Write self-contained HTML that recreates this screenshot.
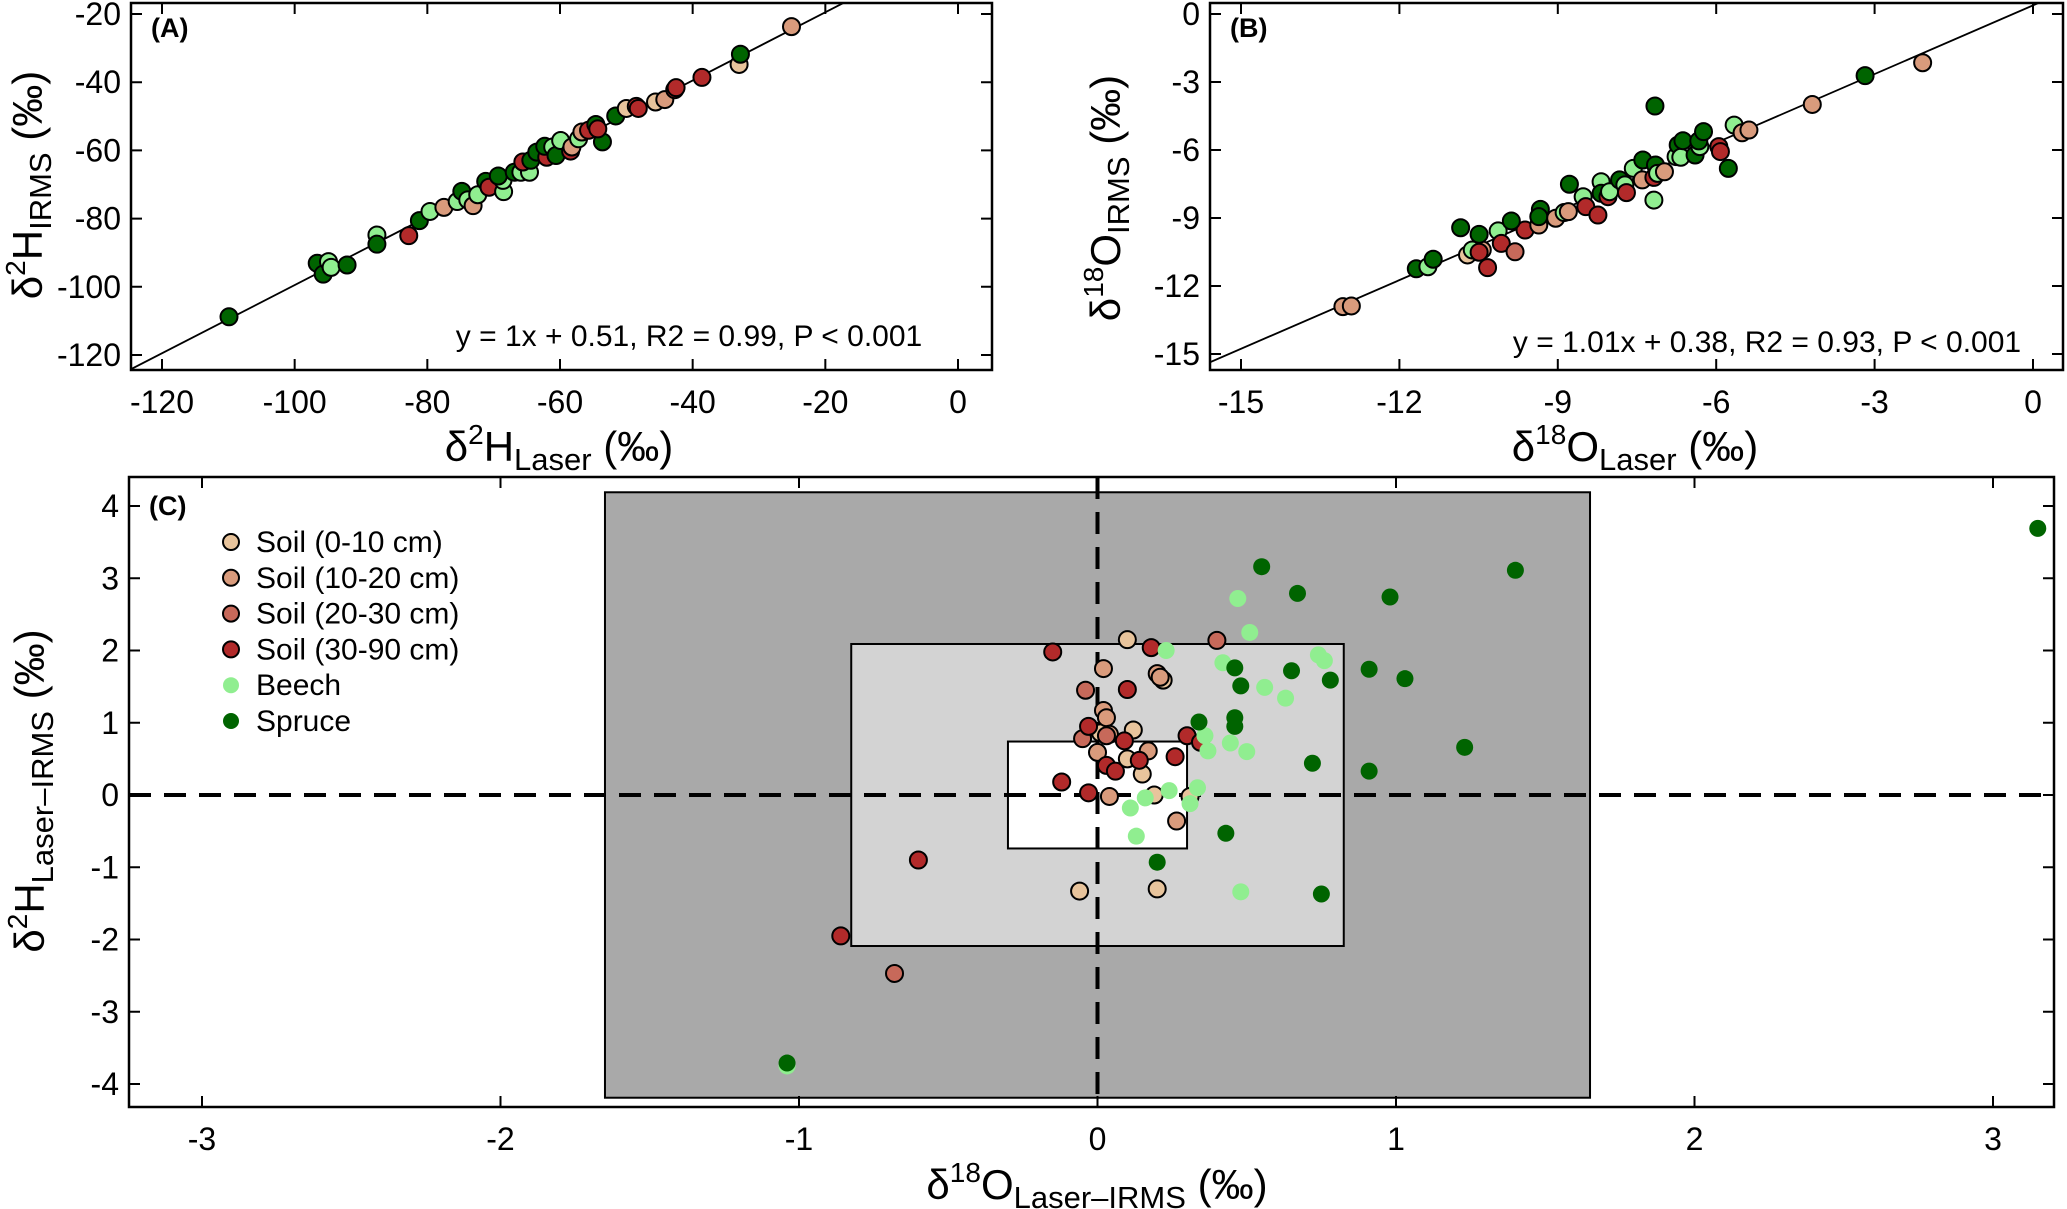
<!DOCTYPE html>
<html><head><meta charset="utf-8">
<style>
html,body{margin:0;padding:0;background:#fff;}
svg{display:block;font-family:"Liberation Sans",Arial,sans-serif;}
</style></head>
<body>
<svg id="chart" width="2067" height="1209" viewBox="0 0 2067 1209" xmlns="http://www.w3.org/2000/svg"></svg>
<script>
// ---------- data ----------
const groupNames = ["Soil (0-10 cm)","Soil (10-20 cm)","Soil (20-30 cm)","Soil (30-90 cm)","Beech","Spruce"];
const groupColors = ["#e8c49c","#d99b7c","#c7695a","#b22a2a","#90ee90","#006400"];

// Panel A
const aLaser = [-109.9,-96.6,-95.7,-94.9,-94.5,-92.1,-87.6,-87.6,-82.8,-81.2,-79.6,-77.5,-75.5,-74.8,-73.9,-73.1,-72.4,-71.2,-70.7,-68.5,-68.6,-69.3,-66.9,-65.9,-64.6,-65.6,-64.4,-63.5,-62.0,-62.3,-61.1,-60.6,-59.9,-58.4,-58.2,-57.2,-56.7,-55.7,-54.6,-53.6,-54.3,-51.6,-50.0,-48.5,-48.2,-45.6,-44.2,-42.7,-42.5,-38.6,-33.0,-32.8,-25.1];
const aIrms  = [-108.8,-93.1,-96.3,-92.6,-94.3,-93.6,-84.8,-87.5,-85.0,-80.6,-77.9,-76.7,-75.0,-72.0,-74.5,-76.2,-73.0,-69.1,-70.8,-72.1,-68.8,-67.5,-66.4,-66.4,-66.4,-63.4,-62.9,-60.5,-62.0,-58.8,-59.0,-61.5,-57.1,-60.2,-59.0,-56.6,-54.6,-54.1,-52.4,-57.5,-53.7,-49.9,-47.7,-47.1,-47.7,-45.8,-45.1,-42.2,-41.6,-38.6,-34.8,-31.8,-23.7];
const aGroup = [5,5,5,4,4,5,4,5,3,5,4,1,4,5,4,1,4,5,3,4,4,5,5,4,4,3,5,5,3,5,4,5,4,3,1,4,1,3,5,5,3,5,0,3,3,0,1,3,3,3,0,5,1];

// Panel B
const bLaser = [-13.07,-12.91,-11.68,-11.46,-11.36,-10.71,-10.62,-10.43,-10.49,-10.84,-10.49,-10.13,-10.07,-10.33,-9.81,-9.62,-9.88,-9.36,-9.33,-9.36,-9.04,-8.88,-8.80,-8.78,-8.52,-8.47,-8.24,-8.18,-8.18,-8.05,-8.02,-7.83,-7.73,-7.70,-7.57,-7.39,-7.40,-7.18,-7.18,-7.16,-7.15,-7.11,-6.98,-6.76,-6.72,-6.67,-6.63,-6.40,-6.31,-6.33,-6.24,-5.95,-5.92,-5.77,-5.66,-5.51,-5.38,-4.18,-3.18,-2.09];
const bIrms  = [-12.91,-12.88,-11.24,-11.15,-10.82,-10.63,-10.41,-10.41,-10.51,-9.43,-9.72,-9.57,-10.12,-11.19,-10.49,-9.53,-9.13,-9.31,-8.62,-8.94,-9.01,-8.76,-8.72,-7.51,-8.06,-8.50,-8.87,-7.40,-7.91,-8.06,-7.84,-7.32,-7.54,-7.88,-6.81,-6.44,-7.32,-7.21,-8.21,-4.06,-6.66,-7.03,-6.96,-6.29,-5.78,-6.32,-5.59,-6.22,-5.85,-5.60,-5.19,-5.85,-6.07,-6.81,-4.90,-5.24,-5.12,-3.99,-2.72,-2.15];
const bGroup = [1,1,5,4,5,0,4,1,3,5,5,4,3,3,2,3,5,1,5,5,1,4,1,5,4,3,3,4,5,3,4,5,4,3,4,5,1,3,4,5,5,4,1,4,5,4,5,5,4,5,5,3,3,5,4,1,1,1,5,1];

// Panel C
const cO = [0.10,0.22,0.12,0.10,0.15,0.19,0.31,-0.06,0.20,0.01,
            0.02,0.20,0.21,0.17,0.02,0.03,0.04,0.00,0.04,0.265,
            0.40,-0.04,-0.05,0.03,-0.68,
            -0.15,0.18,0.10,-0.03,0.09,0.30,0.345,0.14,0.26,0.03,0.06,-0.12,-0.03,-0.60,-0.86,
            0.23,0.47,0.51,0.42,0.56,0.63,0.74,0.76,0.36,0.37,0.445,0.50,0.335,0.24,0.16,0.11,0.31,0.13,0.48,-1.04,
            0.55,0.67,0.98,0.46,0.65,0.91,0.48,0.78,0.34,0.46,0.46,0.72,0.91,0.43,0.20,0.75,3.15,1.40,1.03,1.23,-1.04];
const cH = [2.15,1.59,0.90,0.50,0.29,0.00,-0.02,-1.33,-1.30,0.86,
            1.75,1.68,1.63,0.61,1.17,1.07,0.84,0.59,-0.02,-0.36,
            2.14,1.45,0.78,0.82,-2.47,
            1.98,2.04,1.46,0.95,0.75,0.82,0.73,0.48,0.53,0.41,0.33,0.18,0.03,-0.90,-1.95,
            2.00,2.72,2.25,1.83,1.49,1.34,1.94,1.86,0.82,0.61,0.72,0.60,0.10,0.06,-0.04,-0.18,-0.12,-0.57,-1.34,-3.75,
            3.16,2.79,2.74,1.76,1.72,1.74,1.51,1.59,1.01,1.07,0.95,0.44,0.33,-0.53,-0.93,-1.37,3.69,3.11,1.61,0.66,-3.71];
const cGroup = [0,0,0,0,0,0,0,0,0,0, 1,1,1,1,1,1,1,1,1,1, 2,2,2,2,2, 3,3,3,3,3,3,3,3,3,3,3,3,3,3,3,
                4,4,4,4,4,4,4,4,4,4,4,4,4,4,4,4,4,4,4,4, 5,5,5,5,5,5,5,5,5,5,5,5,5,5,5,5,5,5,5,5,5];

const aTicksX = [-120,-100,-80,-60,-40,-20,0];
const aTicksY = [-20,-40,-60,-80,-100,-120];
const bTicksX = [-15,-12,-9,-6,-3,0];
const bTicksY = [0,-3,-6,-9,-12,-15];
const cTicksX = [-3,-2,-1,0,1,2,3];
const cTicksY = [4,3,2,1,0,-1,-2,-3,-4];
const cBoxes = [[1.65,4.19],[0.825,2.09],[0.3,0.74]];
const cBoxFill = ["#a9a9a9","#d3d3d3","#ffffff"];

// ---------- helpers ----------
const NS="http://www.w3.org/2000/svg";
const svg=document.getElementById('chart');
function el(tag,attrs,parent){const e=document.createElementNS(NS,tag);for(const k in attrs)e.setAttribute(k,attrs[k]);(parent||svg).appendChild(e);return e;}
function lin(d0,d1,r0,r1){return v=>r0+(v-d0)/(d1-d0)*(r1-r0);}

function panel(cfg){
  const g=el('g',{});
  
  
  const sx=cfg.sx, sy=cfg.sy, B=cfg.box;
  if(cfg.before) cfg.before(g);
  cfg.tx.forEach(t=>{
    const x=sx(t);
    const tk=el('path',{d:`M${x},${B.b}v-11M${x},${B.t}v11`,stroke:'#000','stroke-width':2},g);
    
    
    const lb=el('text',{x:x,y:B.b+43,'text-anchor':'middle','font-size':32},g);
    lb.textContent=t;
    
    
  });
  cfg.ty.forEach(t=>{
    const y=sy(t);
    const tk=el('path',{d:`M${B.l},${y}h11M${B.r},${y}h-11`,stroke:'#000','stroke-width':2},g);
    
    
    const lb=el('text',{x:B.l-10,y:y+11,'text-anchor':'end','font-size':32},g);
    lb.textContent=t;
    
    
  });
  if(cfg.mid) cfg.mid(g);
  const clip=el('clipPath',{id:cfg.name+'-clip'},g);
  el('rect',{x:B.l,y:B.t,width:B.r-B.l,height:B.b-B.t},clip);
  const pg=el('g',{'clip-path':`url(#${cfg.name}-clip)`},g);
  if(cfg.line){
    const [m,c]=cfg.line;
    const x0=cfg.lineRange[0],x1=cfg.lineRange[1];
    const ln=el('line',{x1:sx(x0),y1:sy(m*x0+c),x2:sx(x1),y2:sy(m*x1+c),stroke:'#000','stroke-width':1.8},pg);
    
    
  }
  cfg.xs.forEach((v,i)=>{
    const gi=cfg.gs[i];
    const noBorder=cfg.greenNoBorder && gi>=4;
    const p=el('circle',{cx:sx(v),cy:sy(cfg.ys[i]),r:8.5,fill:groupColors[gi],stroke:noBorder?'none':'#000','stroke-width':2},pg);
    
    
  });
  const fr=el('rect',{x:B.l,y:B.t,width:B.r-B.l,height:B.b-B.t,fill:'none',stroke:'#000','stroke-width':2.5},g);
  
  
  const pl=el('text',{x:B.l+20,y:B.t+cfg.labelDy,'font-size':27,'font-weight':'bold'},g);
  pl.textContent=cfg.label;
  
  
  return g;
}

function title(x,y,rot,main,sup,sub,name){
  const t=el('text',{x:x,y:y,'text-anchor':'middle','font-size':42,transform:rot?`rotate(-90 ${x} ${y})`:''});
  
  
  t.innerHTML=`δ<tspan font-size="28" dy="-17">${sup}</tspan><tspan dy="17">${main}</tspan><tspan font-size="31" dy="9">${sub}</tspan><tspan dy="-9"> (‰)</tspan>`;
}
function eq(x,y,s){const t=el('text',{x:x,y:y,'text-anchor':'middle','font-size':30});t.textContent=s;
  
  }

// Panel A
const A={l:131,r:992,t:3,b:370};
panel({name:'panel-a',box:A,sx:lin(-120,0,162,958),sy:lin(-20,-120,14,355),tx:aTicksX,ty:aTicksY,
  xs:aLaser,ys:aIrms,gs:aGroup,line:[1,0.51],lineRange:[-130,10],label:'(A)',labelDy:34});
eq(689,346,'y = 1x + 0.51, R2 = 0.99, P < 0.001');
title(559,461,false,'H','2','Laser','x-axis-title-a');
title(42,185,true,'H','2','IRMS','y-axis-title-a');

// Panel B
const Bx={l:1210,r:2063,t:3,b:370};
panel({name:'panel-b',box:Bx,sx:lin(-15,0,1241,2033),sy:lin(0,-15,14,354),tx:bTicksX,ty:bTicksY,
  xs:bLaser,ys:bIrms,gs:bGroup,line:[1.01,0.38],lineRange:[-17,2],label:'(B)',labelDy:34});
eq(1767,352,'y = 1.01x + 0.38, R2 = 0.93, P < 0.001');
title(1635,461,false,'O','18','Laser','x-axis-title-b');
title(1120,198,true,'O','18','IRMS','y-axis-title-b');

// Panel C
const C={l:129,r:2054,t:477,b:1107};
const csx=lin(-3,3,202,1993), csy=lin(4,-4,506,1084);
panel({name:'panel-c',box:C,sx:csx,sy:csy,tx:cTicksX,ty:cTicksY,xs:cO,ys:cH,gs:cGroup,greenNoBorder:true,label:'(C)',labelDy:38,
  before:g=>{
    cBoxes.forEach((b,i)=>{
      const r=el('rect',{x:csx(-b[0]),y:csy(b[1]),width:csx(b[0])-csx(-b[0]),height:csy(-b[1])-csy(b[1]),fill:cBoxFill[i],stroke:'#000','stroke-width':2},g);
      
      
    });
  },
  mid:g=>{
    const h=el('line',{x1:C.l,y1:csy(0),x2:C.r,y2:csy(0),stroke:'#000','stroke-width':4,'stroke-dasharray':'22,13'},g);
    
    
    const v=el('line',{x1:csx(0),y1:C.t,x2:csx(0),y2:C.b,stroke:'#000','stroke-width':4,'stroke-dasharray':'22,13'},g);
    
    
  }});
title(1097,1199,false,'O','18','Laser–IRMS','x-axis-title-c');
title(44,791,true,'H','2','Laser–IRMS','y-axis-title-c');

// Legend
const lg=el('g',{});


groupNames.forEach((n,i)=>{
  const y=542+i*35.8;
  const e=el('g',{},lg);
  
  
  el('circle',{cx:231,cy:y,r:8,fill:groupColors[i],stroke:i>=4?'none':'#000','stroke-width':2},e);
  const t=el('text',{x:256,y:y+10,'font-size':30},e);
  t.textContent=n;
});
</script>
</body></html>
